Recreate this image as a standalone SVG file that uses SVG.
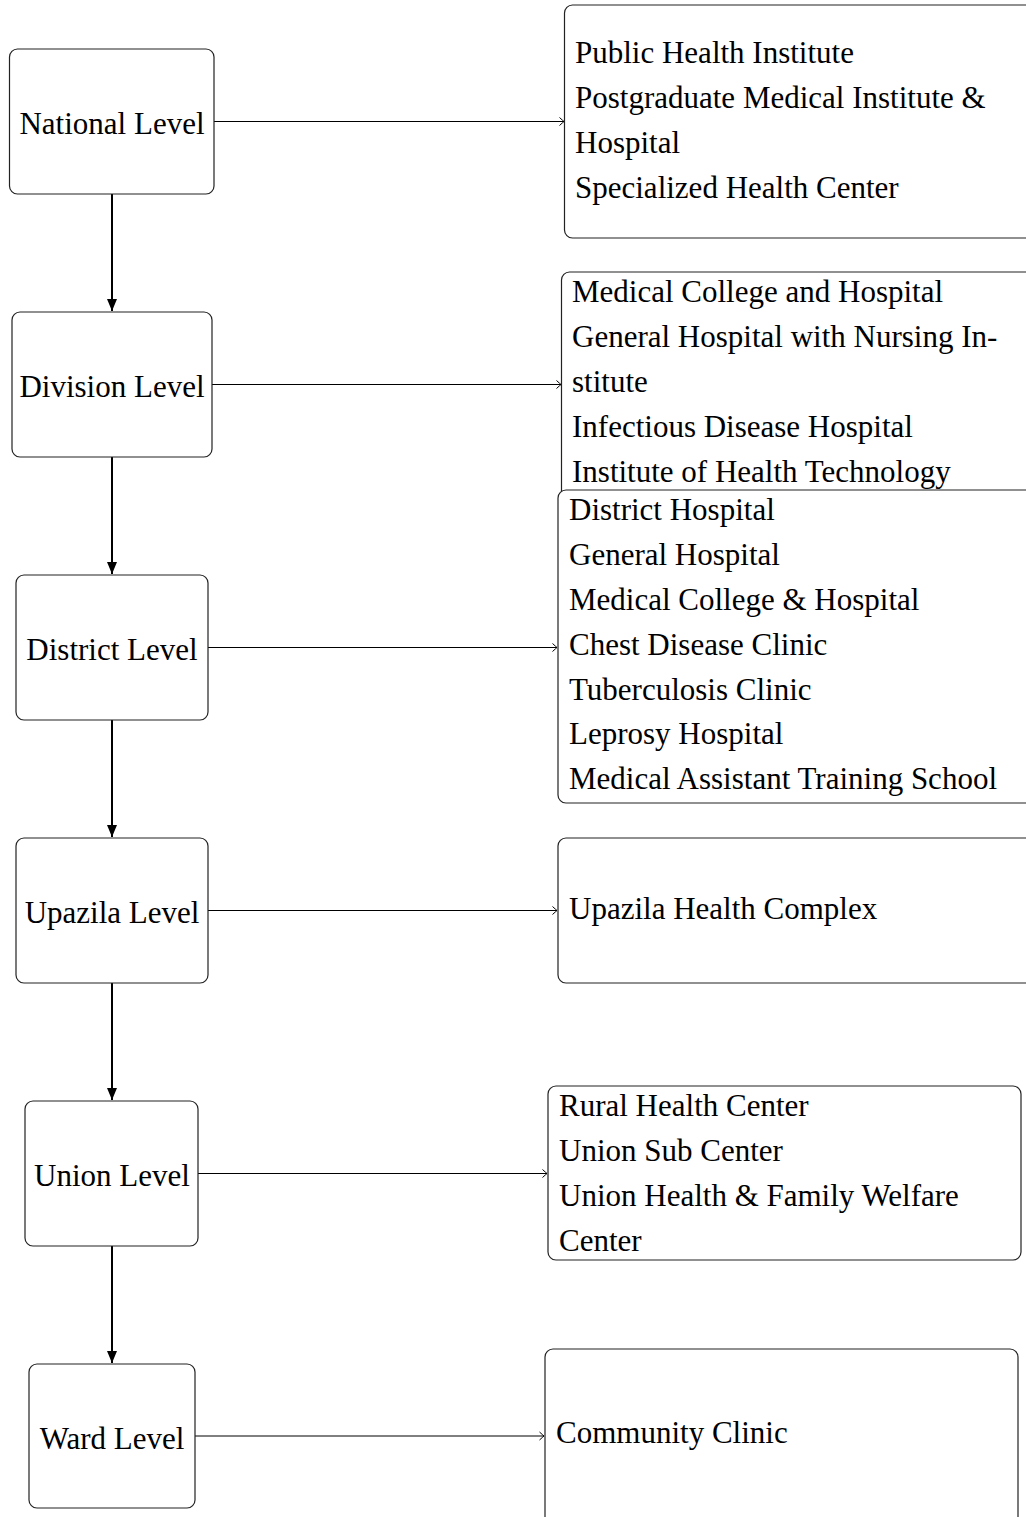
<svg xmlns="http://www.w3.org/2000/svg" width="1026" height="1517" viewBox="0 0 1026 1517">
<defs>
<style>
.box{fill:#fff;stroke:#222;stroke-width:1.2}
.t{font-family:"Liberation Serif","Times New Roman",serif;font-size:31px;fill:#000}
.c{text-anchor:middle}
.h{stroke:#000;stroke-width:1;fill:none}
.v{stroke:#000;stroke-width:2;fill:none}
</style>
<marker id="to" markerUnits="userSpaceOnUse" markerWidth="12" markerHeight="12" viewBox="-6 -6 12 12" refX="0" refY="0" orient="auto">
<path d="M-4.5,-4 Q-1.2,-1 0,0 Q-1.2,1 -4.5,4" stroke="#000" stroke-width="1" fill="none"/>
</marker>
<marker id="tri" markerUnits="userSpaceOnUse" markerWidth="16" markerHeight="16" viewBox="-14 -8 16 16" refX="0" refY="0" orient="auto">
<path d="M-12,-5 L0,0 L-12,5 Z" fill="#000"/>
</marker>
</defs>
<rect width="1026" height="1517" fill="#fff"/>
<g id="connectors">
<line class="h" x1="214" y1="121.5" x2="564" y2="121.5" marker-end="url(#to)"/>
<line class="h" x1="212" y1="384.5" x2="561" y2="384.5" marker-end="url(#to)"/>
<line class="h" x1="208" y1="647.5" x2="557" y2="647.5" marker-end="url(#to)"/>
<line class="h" x1="208" y1="910.5" x2="557" y2="910.5" marker-end="url(#to)"/>
<line class="h" x1="198" y1="1173.5" x2="547" y2="1173.5" marker-end="url(#to)"/>
<line class="h" x1="195" y1="1436" x2="544" y2="1436" marker-end="url(#to)"/>
<line class="v" x1="112" y1="194" x2="112" y2="311" marker-end="url(#tri)"/>
<line class="v" x1="112" y1="457" x2="112" y2="574" marker-end="url(#tri)"/>
<line class="v" x1="112" y1="720" x2="112" y2="837" marker-end="url(#tri)"/>
<line class="v" x1="112" y1="983" x2="112" y2="1100" marker-end="url(#tri)"/>
<line class="v" x1="112" y1="1246" x2="112" y2="1363" marker-end="url(#tri)"/>
</g>
<g id="national">
<rect class="box" x="9.5" y="49" width="204.5" height="145" rx="8"/>
<text class="t c" x="112" y="133.5">National Level</text>
</g>
<g id="division">
<rect class="box" x="12" y="312" width="200" height="145" rx="8"/>
<text class="t c" x="112" y="396.5">Division Level</text>
</g>
<g id="district">
<rect class="box" x="16" y="575" width="192" height="145" rx="8"/>
<text class="t c" x="112" y="659.5">District Level</text>
</g>
<g id="upazila">
<rect class="box" x="16" y="838" width="192" height="145" rx="8"/>
<text class="t c" x="112" y="922.5">Upazila Level</text>
</g>
<g id="union">
<rect class="box" x="25" y="1101" width="173" height="145" rx="8"/>
<text class="t c" x="112" y="1185.5">Union Level</text>
</g>
<g id="ward">
<rect class="box" x="29" y="1364" width="166" height="144" rx="8"/>
<text class="t c" x="112" y="1448.5">Ward Level</text>
</g>
<g id="national-facilities">
<rect class="box" x="564.5" y="5" width="470" height="233" rx="8"/>
<text class="t" x="575" y="63">Public Health Institute</text>
<text class="t" x="575" y="108">Postgraduate Medical Institute &amp;</text>
<text class="t" x="575" y="153">Hospital</text>
<text class="t" x="575" y="198">Specialized Health Center</text>
</g>
<g id="division-facilities">
<rect class="box" x="561.5" y="272" width="475" height="230" rx="8"/>
<text class="t" x="572" y="302">Medical College and Hospital</text>
<text class="t" x="572" y="347">General Hospital with Nursing In-</text>
<text class="t" x="572" y="392">stitute</text>
<text class="t" x="572" y="437">Infectious Disease Hospital</text>
<text class="t" x="572" y="482">Institute of Health Technology</text>
</g>
<g id="district-facilities">
<rect class="box" x="558" y="490" width="478" height="313" rx="8"/>
<text class="t" x="569" y="520">District Hospital</text>
<text class="t" x="569" y="565">General Hospital</text>
<text class="t" x="569" y="610">Medical College &amp; Hospital</text>
<text class="t" x="569" y="655">Chest Disease Clinic</text>
<text class="t" x="569" y="700">Tuberculosis Clinic</text>
<text class="t" x="569" y="744">Leprosy Hospital</text>
<text class="t" x="569" y="789">Medical Assistant Training School</text>
</g>
<g id="upazila-facilities">
<rect class="box" x="558" y="838" width="478" height="145" rx="8"/>
<text class="t" x="569" y="919">Upazila Health Complex</text>
</g>
<g id="union-facilities">
<rect class="box" x="548" y="1086" width="473" height="174" rx="8"/>
<text class="t" x="559" y="1116">Rural Health Center</text>
<text class="t" x="559" y="1161">Union Sub Center</text>
<text class="t" x="559" y="1206">Union Health &amp; Family Welfare</text>
<text class="t" x="559" y="1251">Center</text>
</g>
<g id="ward-facilities">
<rect class="box" x="545" y="1349" width="473" height="180" rx="8"/>
<text class="t" x="556" y="1443">Community Clinic</text>
</g>
</svg>
